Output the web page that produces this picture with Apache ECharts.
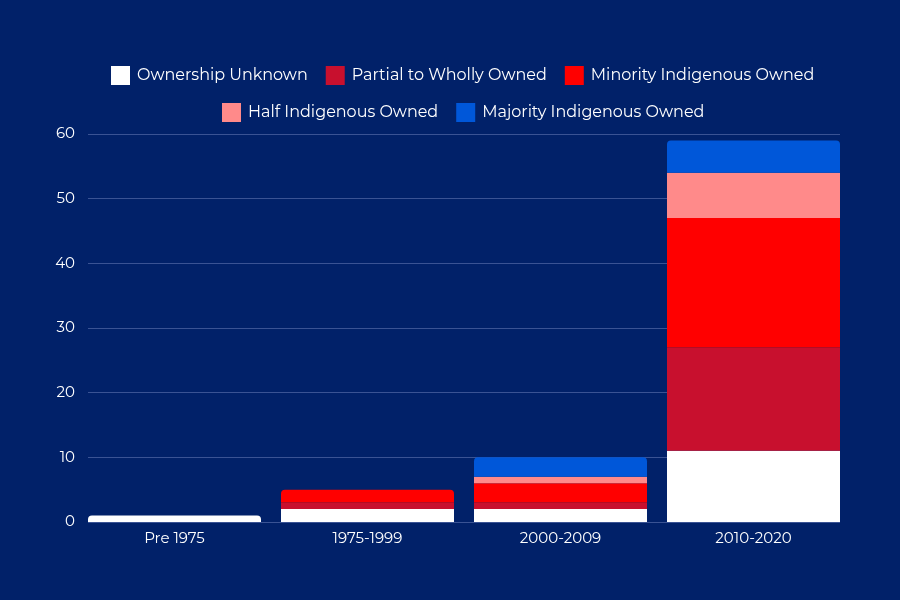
<!DOCTYPE html>
<html>
<head>
<meta charset="utf-8">
<script src="https://cdn.jsdelivr.net/npm/echarts@6/dist/echarts.min.js"></script>
<style>html,body{margin:0;padding:0;background:#012169;}#c{width:900px;height:600px;}</style>
</head>
<body>
<div id="c"></div>
<script>
const categories = ['Pre 1975', '1975-1999', '2000-2009', '2010-2020'];
const seriesNames = ['Ownership Unknown', 'Partial to Wholly Owned', 'Minority Indigenous Owned', 'Half Indigenous Owned', 'Majority Indigenous Owned'];
const ownershipUnknown = [1, 2, 2, 11];
const partialToWhollyOwned = [0, 1, 1, 16];
const minorityIndigenousOwned = [0, 2, 3, 20];
const halfIndigenousOwned = [0, 0, 1, 7];
const majorityIndigenousOwned = [0, 0, 3, 5];
const yTicks = [0, 10, 20, 30, 40, 50, 60];
const colors = ['#ffffff', '#c8102e', '#ff0000', '#ff8a8a', '#0057d9'];

const allValues = [ownershipUnknown, partialToWhollyOwned, minorityIndigenousOwned, halfIndigenousOwned, majorityIndigenousOwned];
// find top non-zero series for each category to round its top corners
const topIdx = categories.map((c, ci) => {
  let t = 0;
  allValues.forEach((arr, si) => { if (arr[ci] > 0) t = si; });
  return t;
});

const font = 'Montserrat, "Noto Sans", sans-serif';
const chart = echarts.init(document.getElementById('c'));
const series = allValues.map((arr, si) => ({
  name: seriesNames[si],
  type: 'bar',
  stack: 'total',
  xAxisIndex: 1,
  yAxisIndex: 1,
  barWidth: 173,
  itemStyle: { color: colors[si] },
  data: arr.map((v, ci) => ({
    value: v,
    itemStyle: { borderRadius: topIdx[ci] === si ? [4, 4, 0, 0] : 0 }
  }))
}));

const legendText = { color: '#ffffff', fontSize: 16, fontFamily: font, padding: [0, 0, 0, 2] };
chart.setOption({
  backgroundColor: '#012169',
  animation: false,
  color: colors,
  textStyle: { fontFamily: font },
  legend: [
    {
      data: seriesNames.slice(0, 3), top: 61, left: 106,
      icon: 'rect', itemWidth: 19, itemHeight: 19, itemGap: 18,
      textStyle: legendText
    },
    {
      data: seriesNames.slice(3), top: 98, left: 217,
      icon: 'rect', itemWidth: 19, itemHeight: 19, itemGap: 18,
      textStyle: legendText
    }
  ],
  grid: [
    { left: 88, right: 60, top: 134, bottom: 78 },
    { left: 78, right: 50, top: 134, bottom: 78 }
  ],
  xAxis: [
    { type: 'category', gridIndex: 0, data: categories, show: false },
    {
      type: 'category', gridIndex: 1, data: categories,
      axisLine: { show: false },
      axisTick: { show: false },
      axisLabel: { color: '#ffffff', fontSize: 15, margin: 9, fontFamily: font }
    }
  ],
  yAxis: [
    {
      type: 'value', gridIndex: 0, min: 0, max: 60, interval: 10,
      axisLine: { show: false }, axisTick: { show: false },
      splitLine: { show: true, lineStyle: { color: '#3a5394', width: 1 } },
      axisLabel: { color: '#ffffff', fontSize: 15, margin: 13, fontFamily: font,
        formatter: v => yTicks.includes(v) ? String(v) : '' }
    },
    {
      type: 'value', gridIndex: 1, min: 0, max: 60, interval: 10,
      show: false, splitLine: { show: false }
    }
  ],
  series: series.concat([{
    type: 'line', xAxisIndex: 0, yAxisIndex: 0, data: [], silent: true
  }])
});
</script>
</body>
</html>
